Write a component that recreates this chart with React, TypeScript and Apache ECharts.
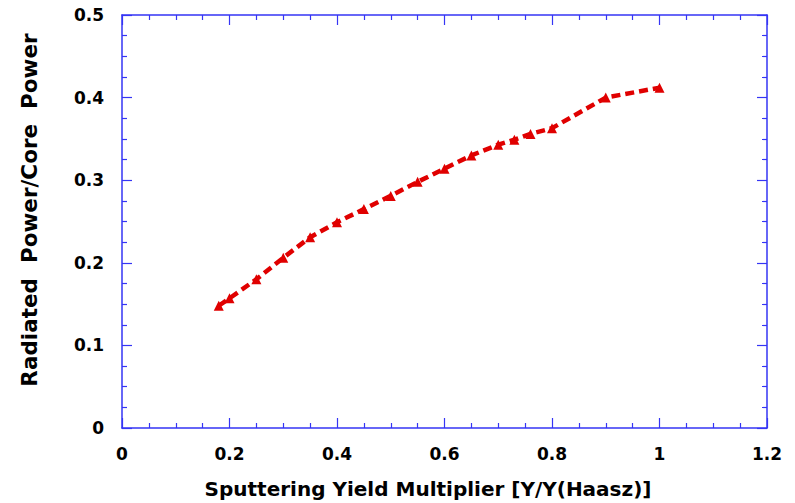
import React, { useEffect, useRef } from "react";
import * as echarts from "echarts";

// Sputtering yield multiplier (x) and radiated / core power ratio (y)
const yieldMultiplier = [0.18, 0.2, 0.25, 0.3, 0.35, 0.4, 0.45, 0.5, 0.55, 0.6, 0.65, 0.7, 0.73, 0.76, 0.8, 0.9, 1.0];
const radiatedFraction = [0.148, 0.157, 0.18, 0.206, 0.231, 0.249, 0.265, 0.281, 0.298, 0.314, 0.33, 0.343, 0.349, 0.356, 0.363, 0.4, 0.412];

const xTitle = "Sputtering Yield Multiplier [Y/Y(Haasz)]";
const yTitle = "Radiated  Power/Core  Power";

const AXIS_BLUE = "#3535f5";
const FONT = "DejaVu Sans, sans-serif";

export default function App() {
  const ref = useRef<HTMLDivElement>(null);

  useEffect(() => {
    document.body.style.margin = "0";
    const chart = echarts.init(ref.current!, null, { renderer: "svg" });

    const baseAxis = {
      type: "value" as const,
      splitLine: { show: false },
      axisLine: { show: true, onZero: false, lineStyle: { color: AXIS_BLUE, width: 1.5 } },
      axisTick: { show: true, inside: true, length: 10, lineStyle: { color: AXIS_BLUE, width: 1.2 } },
      minorTick: { show: true, splitNumber: 4, length: 5, lineStyle: { color: AXIS_BLUE, width: 1.2 } },
    };

    const labelStyle = { color: "#000", fontFamily: FONT, fontWeight: "bold" as const, fontSize: 17 };
    const titleStyle = { fill: "#000", fontFamily: FONT, fontWeight: "bold" as const };

    chart.setOption({
      animation: false,
      backgroundColor: "#fff",
      grid: { left: 122, right: 28, top: 15, bottom: 75, containLabel: false },
      xAxis: [
        {
          ...baseAxis,
          min: 0,
          max: 1.2,
          interval: 0.2,
          position: "bottom",
          axisLabel: { ...labelStyle, margin: 17, formatter: (v: number) => String(+v.toFixed(1)) },
        },
        {
          ...baseAxis,
          min: 0,
          max: 1.2,
          interval: 0.2,
          position: "top",
          axisLabel: { show: false },
        },
      ],
      yAxis: [
        {
          ...baseAxis,
          min: 0,
          max: 0.5,
          interval: 0.1,
          position: "left",
          axisLabel: { ...labelStyle, margin: 18, formatter: (v: number) => String(+v.toFixed(1)) },
        },
        {
          ...baseAxis,
          min: 0,
          max: 0.5,
          interval: 0.1,
          position: "right",
          axisLabel: { show: false },
        },
      ],
      graphic: [
        {
          type: "text",
          x: 428,
          y: 489,
          style: { ...titleStyle, fontSize: 20, text: xTitle, align: "center", verticalAlign: "middle" },
        },
        {
          type: "text",
          x: 29,
          y: 210,
          rotation: Math.PI / 2,
          style: { ...titleStyle, fontSize: 21.5, text: yTitle, align: "center", verticalAlign: "middle" },
        },
      ],
      series: [
        {
          type: "line",
          data: yieldMultiplier.map((x, i) => [x, radiatedFraction[i]]),
          symbol: "triangle",
          symbolSize: 10,
          itemStyle: { color: "#e00000" },
          lineStyle: { color: "#e00000", width: 4.5, type: [9, 5] },
          smooth: false,
        },
      ],
    });

    return () => chart.dispose();
  }, []);

  return <div ref={ref} style={{ position: "absolute", left: 0, top: 0, width: 795, height: 503 }} />;
}
